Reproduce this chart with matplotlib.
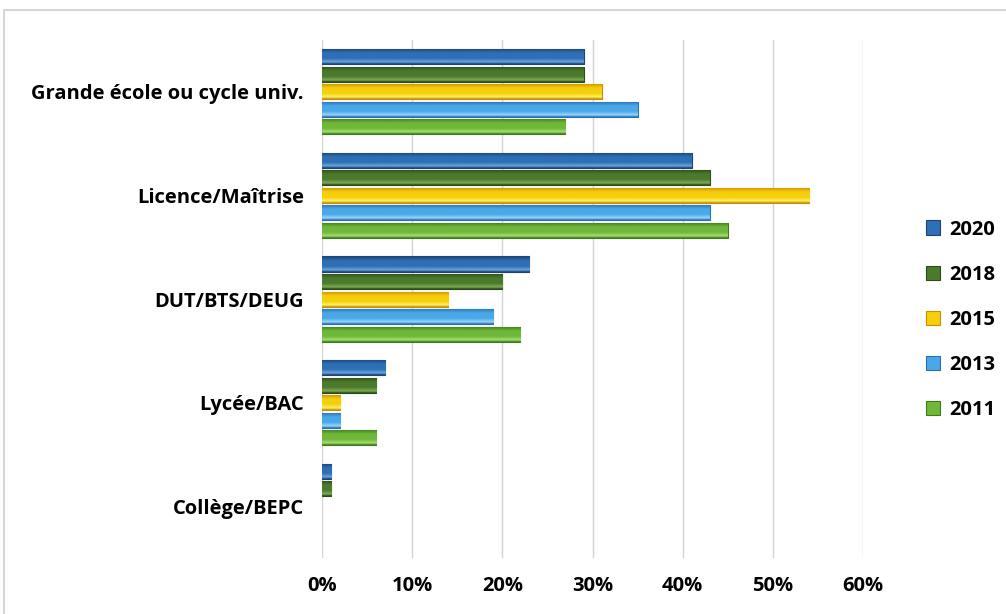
import numpy as np
import matplotlib
matplotlib.use("Agg")
import matplotlib.pyplot as plt
from matplotlib.patches import Rectangle, Patch
from matplotlib.colors import to_rgb

categories = ['Collège/BEPC', 'Lycée/BAC', 'DUT/BTS/DEUG', 'Licence/Maîtrise', 'Grande école ou cycle univ.']
years = ['2020', '2018', '2015', '2013', '2011']
v2020 = [1, 7, 23, 41, 29]
v2018 = [1, 6, 20, 43, 29]
v2015 = [0, 2, 14, 54, 31]
v2013 = [0, 2, 19, 43, 35]
v2011 = [0, 6, 22, 45, 27]
tick_labels = ['0%', '10%', '20%', '30%', '40%', '50%', '60%']

series = [v2020, v2018, v2015, v2013, v2011]
# (base, light, dark) per year
colors = [('#2f6fb5', '#6aa6e0', '#1b4373'),
          ('#4c7a2c', '#7fae57', '#2d4a18'),
          ('#f5cf0c', '#fff36a', '#c98f00'),
          ('#4aa8e8', '#9ad8ff', '#2a70b0'),
          ('#6fb83a', '#a8e070', '#3f7a1e')]

plt.rcParams['font.family'] = ['Open Sans', 'DejaVu Sans']
plt.rcParams['font.weight'] = 'bold'
fs = 14.5

fig = plt.figure(figsize=(10.06, 6.14), dpi=100)
ax = fig.add_axes([0.320, 0.0912, 0.538, 0.8436])

def gradient(base, light, dark, n=40):
    b, l, d = np.array(to_rgb(base)), np.array(to_rgb(light)), np.array(to_rgb(dark))
    t = np.linspace(0, 1, n)
    rows = []
    for v in t:
        if v < 0.12:
            c = d * (1 - v / 0.12) + l * (v / 0.12)
        elif v < 0.35:
            c = l * (1 - (v - 0.12) / 0.23) + b * ((v - 0.12) / 0.23)
        elif v < 0.7:
            c = b
        else:
            c = b * (1 - (v - 0.7) / 0.3) + d * ((v - 0.7) / 0.3)
        rows.append(c)
    return np.array(rows).reshape(n, 1, 3)

y = np.arange(len(categories))
pitch = 0.169
height = 0.145
handles = []
for i, (vals, col) in enumerate(zip(series, colors)):
    offs = y + (2 - i) * pitch
    widths = [v / 100 for v in vals]
    bars = ax.barh(offs, widths, height=height, color=col[0],
                   edgecolor=col[2], linewidth=0.8, zorder=3)
    handles.append(Patch(facecolor=col[0], edgecolor=col[2], linewidth=0.8))
    grad = gradient(*col)
    for b in bars:
        w = b.get_width()
        if w <= 0:
            b.set_visible(False)
            continue
        y0 = b.get_y()
        im = ax.imshow(grad, extent=(0, w, y0 + height, y0), aspect='auto',
                       interpolation='bilinear', zorder=3.5)
        im.set_clip_path(b)

ax.set_xlim(0, 0.6)
ax.set_ylim(-0.5, 4.5)
ax.set_xticks(np.arange(0, 0.61, 0.1))
ax.set_xticklabels(tick_labels, fontsize=fs, fontweight='bold')
ax.set_yticks(y)
ax.set_yticklabels(categories, fontsize=fs, fontweight='bold')
ax.tick_params(axis='both', length=0)
ax.tick_params(axis='x', pad=13)
ax.tick_params(axis='y', pad=13)
ax.grid(axis='x', color='#d4d4d4', linewidth=1.0, zorder=0)
ax.set_axisbelow(True)
for s in ax.spines.values():
    s.set_visible(False)

leg = fig.legend(handles=handles, labels=years, loc='upper left',
                 bbox_to_anchor=(0.902, 0.672), frameon=False, fontsize=fs,
                 handlelength=0.7, handleheight=0.7, handletextpad=0.5,
                 labelspacing=1.25)

fig.patches.append(Rectangle((0.004, -0.05), 1.05, 1.034, transform=fig.transFigure,
                             fill=False, edgecolor='#d6d6d6', linewidth=1.5))

fig.savefig('out.png', dpi=100)
